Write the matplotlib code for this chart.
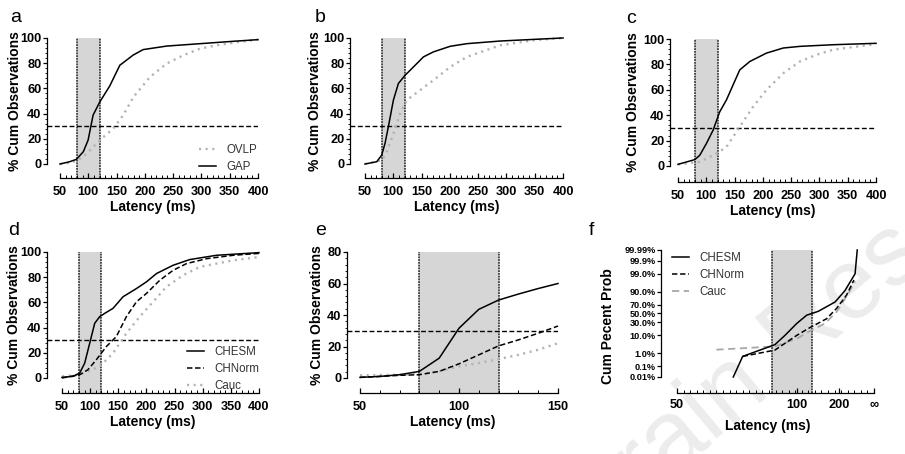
import numpy as np
import matplotlib
matplotlib.use("Agg")
import matplotlib.pyplot as plt
from matplotlib.ticker import FixedLocator, NullFormatter
from statistics import NormalDist

plt.rcParams['font.family'] = ['Liberation Sans', 'DejaVu Sans']

# ---------------- data ----------------
# panel a
a_gap_x = [50, 67, 79, 91.3, 99.7, 108.5, 120.4, 138, 155.8, 179.5, 197, 238.6, 297.7, 356.8, 400]
a_gap_y = [0, 1.8, 3.7, 9.8, 19, 38.8, 49.3, 62, 78.4, 86.5, 90.8, 93.6, 95.5, 97.4, 98.7]
a_ovlp_x = [50, 61, 80, 96.7, 120.4, 144, 161.8, 179.5, 209, 238.6, 268, 297.8, 327, 357, 400]
a_ovlp_y = [0, 0.5, 2.5, 8, 19, 28, 38.8, 53, 69, 79.7, 86.3, 91.6, 94.2, 96.3, 98.7]
# panel b
b_gap_x = [50, 70.7, 79.5, 85.4, 91.3, 100.2, 109, 120.8, 135.6, 153.3, 171, 200.5, 230, 289, 348, 400]
b_gap_y = [0, 1.8, 7, 16.4, 29.6, 50.7, 63.9, 70.4, 77, 85, 89, 93.4, 95.5, 97.6, 98.9, 100]
b_ovlp_x = [50, 80, 88.4, 100.2, 112, 123.8, 147.4, 171, 200.5, 230, 289, 348, 400]
b_ovlp_y = [0, 3, 9.8, 24, 40, 50.7, 58.6, 66.5, 77, 85, 94.2, 98.2, 100]
# panel c
c_gap_x = [50, 79.5, 88.4, 100.2, 112, 123.8, 135.6, 147.4, 159.2, 177, 206.4, 236, 265.5, 324.5, 400]
c_gap_y = [1.3, 5, 8.4, 17.7, 28.2, 42.7, 52, 63.9, 75.7, 82.3, 88.9, 92.9, 94.2, 95.5, 96.6]
c_ovlp_x = [50, 88.4, 117.9, 135.6, 159.2, 182.8, 206.4, 236, 265.5, 295, 324.5, 400]
c_ovlp_y = [1.3, 3.2, 9.8, 15, 30.9, 46.7, 59.9, 73, 82.3, 87.6, 91.6, 96]
# panel d
d_chesm_x = [50, 69.6, 81.4, 90.3, 99.2, 108.1, 117, 125.9, 140.7, 158.5, 182.3, 200, 217.9, 247.5, 277, 324.6, 400]
d_chesm_y = [0.5, 1.3, 3.9, 11.8, 27.6, 43.4, 48.7, 51.3, 55.3, 64.5, 71, 76.3, 82.9, 89.5, 94, 97.4, 99.5]
d_chnorm_x = [50, 81.4, 96.2, 111, 128.9, 146.6, 164.4, 182.3, 200, 223.8, 247.5, 271.3, 306.8, 354.3, 400]
d_chnorm_y = [0, 2.6, 6.6, 14.5, 25, 32.9, 48.7, 60.5, 67.1, 77.6, 85.5, 90.8, 94.7, 97.4, 98.9]
d_cauc_x = [50, 81.4, 117, 140.7, 164.4, 188.2, 211.9, 235.6, 265.3, 295, 354.3, 400]
d_cauc_y = [1.3, 2.6, 9.2, 19.7, 35.5, 48.7, 60.5, 72.4, 81.6, 88.2, 93.4, 96]
# panel e
e_x = [50, 60, 70, 80, 90, 100, 110, 120, 130, 140, 150]
e_chesm_y = [0.4, 1.0, 2.1, 4.2, 12.6, 31.6, 43.6, 49.5, 53.3, 56.8, 60]
e_chnorm_y = [0.4, 1.0, 1.7, 2.1, 4.2, 9, 14.7, 20.4, 24.2, 28.4, 33]
e_cauc_y = [1.7, 1.9, 2.1, 2.5, 4.2, 7.4, 9.5, 12, 14.7, 17.9, 22.1]
# panel f (probability plot)
f_chesm_x = [62.8, 66, 81.6, 88.8, 99.6, 111.6, 131, 180, 235, 351, 394]
f_chesm_y = [0.01, 0.6, 3.4, 10, 28, 46, 55, 75, 91, 99, 99.99]
f_chnorm_x = [66, 81.6, 99.6, 114, 151, 187, 248, 332]
f_chnorm_y = [0.6, 1.6, 10, 19, 38, 62, 86, 97.5]
f_cauc_x = [58, 81.6, 99.6, 114, 146.5, 187, 264, 351]
f_cauc_y = [1.7, 2.7, 7, 14, 28, 54, 88, 97]

window = (80, 120)
criterion = 30

f_yticks = [0.01, 0.1, 1, 10, 30, 50, 70, 90, 99, 99.9, 99.99]
f_yticklabels = ['0.01%', '0.1%', '1.0%', '10.0%', '30.0%', '50.0%', '70.0%', '90.0%', '99.0%', '99.9%', '99.99%']
f_xticks = [50, 100, 200, 1e12]
f_xticklabels = ['50', '100', '200', '∞']

# ---------------- styles ----------------
W, H = 905, 454
GRAY = '#b3b3b3'
SHADE = '#d6d6d6'
solid = dict(color='black', lw=1.1, ls='-')
dashed = dict(color='black', lw=1.1, ls=(0, (3.5, 1.8)))
dotted = dict(color=GRAY, lw=1.7, ls=(0, (0.9, 1.9)))
gdashed = dict(color='#a8a8a8', lw=1.3, ls=(0, (4, 2.5)))
TICKFS = 9.2
LABFS = 10
LEGFS = 8.3
leg_kw = dict(frameon=False, fontsize=LEGFS, handlelength=1.5, handletextpad=0.9,
              labelspacing=0.45, labelcolor='#333333', borderaxespad=0, borderpad=0)

fig = plt.figure(figsize=(W / 100, H / 100), dpi=100)

# faint journal watermark (behind everything)
fig.text(745 / W, 1 - 382 / H, 'Brain Res', fontsize=72, color='#ececec', rotation=40,
         ha='center', va='center', zorder=-5)


def add_axes_px(left, top, right, bottom):
    ax = fig.add_axes([left / W, 1 - bottom / H, (right - left) / W, (bottom - top) / H])
    ax.patch.set_alpha(0)
    return ax


def cdf_panel(geom, xr, yr, xmajor, ymajor, ylab_px):
    spine_x, x0px, x1px, ytop, y0px, xaxis = geom
    ax = add_axes_px(spine_x, ytop, x1px, xaxis)
    per = (x1px - x0px) / (xr[1] - xr[0])
    ax.set_xlim(xr[0] - (x0px - spine_x) / per, xr[1])
    pery = (y0px - ytop) / (yr[1] - yr[0])
    ylim = (yr[0] - (xaxis - y0px) / pery, yr[1])
    ax.set_ylim(*ylim)
    for s in ('top', 'right'):
        ax.spines[s].set_visible(False)
    ax.spines['left'].set_bounds(*yr)
    ax.spines['bottom'].set_bounds(*xr)
    ax.set_xticks(np.arange(xr[0], xr[1] + 1, xmajor))
    ax.set_yticks(np.arange(yr[0], yr[1] + 1, ymajor))
    ax.xaxis.set_minor_locator(FixedLocator(np.arange(xr[0], xr[1] + 1, 10)))
    ax.yaxis.set_minor_locator(FixedLocator(np.arange(yr[0], yr[1] + 0.1, ymajor / 5)))
    ax.tick_params(axis='x', which='major', direction='in', length=3.5, width=0.9, pad=5.5)
    ax.tick_params(axis='x', which='minor', direction='in', length=2, width=0.7)
    ax.tick_params(axis='y', which='major', direction='out', length=3, width=0.9, pad=1)
    ax.tick_params(axis='y', which='minor', direction='out', length=1.5, width=0.6)
    for lab in ax.get_xticklabels() + ax.get_yticklabels():
        lab.set_fontweight('bold')
        lab.set_fontsize(TICKFS)
    ax.set_xlabel('Latency (ms)', fontsize=LABFS, fontweight='bold', labelpad=2)
    ax.set_ylabel('% Cum Observations', fontsize=LABFS, fontweight='bold')
    mid = (sum(yr) / 2 - ylim[0]) / (ylim[1] - ylim[0])
    ax.yaxis.set_label_coords((ylab_px + 6 - spine_x) / (x1px - spine_x), mid)
    ax.axvspan(window[0], window[1], color=SHADE, lw=0, zorder=0)
    for v in window:
        ax.axvline(v, color='#222222', lw=1.1, ls=(0, (1.2, 0.6)), zorder=1)
    ax.axhline(criterion, color='black', lw=1.0, ls=(0, (3.5, 1.8)), zorder=2)
    for sp in ax.spines.values():
        sp.set_linewidth(0.9)
    return ax


def letter(x, y, s):
    fig.text(x / W, 1 - y / H, s, fontsize=14, ha='left', va='baseline')


def place_legend(ax, handles, labels, x_px, y_px_top):
    return ax.legend(handles, labels, loc='upper left',
                     bbox_to_anchor=(x_px / W, 1 - y_px_top / H),
                     bbox_transform=fig.transFigure, **leg_kw)


# panel a
ax = cdf_panel((47, 60, 258, 38, 164, 178), (50, 400), (0, 100), 50, 20, 16)
l1, = ax.plot(a_ovlp_x, a_ovlp_y, clip_on=False, zorder=3, **dotted)
l2, = ax.plot(a_gap_x, a_gap_y, clip_on=False, zorder=4, **solid)
place_legend(ax, [l1, l2], ['OVLP', 'GAP'], 199, 144)
letter(10, 22, 'a')

# panel b
ax = cdf_panel((350, 365, 563, 38, 164, 178), (50, 400), (0, 100), 50, 20, 316)
ax.plot(b_ovlp_x, b_ovlp_y, clip_on=False, zorder=3, **dotted)
ax.plot(b_gap_x, b_gap_y, clip_on=False, zorder=4, **solid)
letter(315, 22, 'b')

# panel c
ax = cdf_panel((670, 678, 876, 39, 166, 182), (50, 400), (0, 100), 50, 20, 634)
ax.plot(c_ovlp_x, c_ovlp_y, clip_on=False, zorder=3, **dotted)
ax.plot(c_gap_x, c_gap_y, clip_on=False, zorder=4, **solid)
letter(626, 23, 'c')

# panel d
ax = cdf_panel((47, 62, 259, 252, 378, 393), (50, 400), (0, 100), 50, 20, 15)
h3, = ax.plot(d_cauc_x, d_cauc_y, clip_on=False, zorder=3, **dotted)
h2, = ax.plot(d_chnorm_x, d_chnorm_y, clip_on=False, zorder=4, **dashed)
h1, = ax.plot(d_chesm_x, d_chesm_y, clip_on=False, zorder=5, **solid)
place_legend(ax, [h1, h2, h3], ['CHESM', 'CHNorm', 'Cauc'], 187, 346)
letter(8, 235, 'd')

# panel e
ax = cdf_panel((347, 360, 558, 252, 378, 393), (50, 150), (0, 80), 50, 20, 318)
ax.plot(e_x, e_cauc_y, clip_on=False, zorder=3, **dotted)
ax.plot(e_x, e_chnorm_y, clip_on=False, zorder=4, **dashed)
ax.plot(e_x, e_chesm_y, clip_on=False, zorder=5, **solid)
letter(315, 235, 'e')

# panel f : probit y, reciprocal-like x
_nd = NormalDist()
_ppf = np.vectorize(_nd.inv_cdf, otypes=[float])
_cdf = np.vectorize(_nd.cdf, otypes=[float])


def probit_fwd(p):
    q = np.clip(np.asarray(p, float) / 100.0, 1e-12, 1 - 1e-12)
    return _ppf(q)


def probit_inv(z):
    return _cdf(np.asarray(z, float)) * 100.0


XC = 18.0


def rec_fwd(x):
    x = np.asarray(x, float)
    with np.errstate(divide='ignore', invalid='ignore'):
        return -1.0 / np.clip(x - XC, 1e-9, None)


def rec_inv(t):
    t = np.asarray(t, float)
    with np.errstate(divide='ignore', invalid='ignore'):
        return XC - 1.0 / np.clip(t, None, -1e-15)


ax = add_axes_px(661, 250, 874, 393)
ax.set_xscale('function', functions=(rec_fwd, rec_inv))
ax.set_yscale('function', functions=(probit_fwd, probit_inv))
t50 = float(rec_fwd(50.0))
tper = 197 / (0 - t50)
ax.set_xlim(float(rec_inv(t50 - 16 / tper)), 1e12)
zlo, zhi = float(probit_fwd(0.01)), float(probit_fwd(99.99))
zper = (377 - 250) / (zhi - zlo)
ax.set_ylim(float(probit_inv(zlo - 16 / zper)), 99.99)
for s in ('top', 'right'):
    ax.spines[s].set_visible(False)
ax.spines['left'].set_bounds(0.01, 99.99)
ax.spines['bottom'].set_bounds(50, 1e12)
for sp in ax.spines.values():
    sp.set_linewidth(0.9)
ax.set_xticks(f_xticks)
ax.set_xticklabels(f_xticklabels)
minor_t = np.linspace(t50, 0, 31)[1:-1]
ax.xaxis.set_minor_locator(FixedLocator(rec_inv(minor_t)))
ax.xaxis.set_minor_formatter(NullFormatter())
ax.set_yticks(f_yticks)
ax.set_yticklabels(f_yticklabels)
ax.yaxis.set_minor_locator(FixedLocator([]))
ax.tick_params(axis='x', which='major', direction='in', length=3.5, width=0.9, pad=4)
ax.tick_params(axis='x', which='minor', direction='in', length=2, width=0.7)
ax.tick_params(axis='y', which='major', direction='out', length=3, width=0.9, pad=1)
for lab in ax.get_xticklabels():
    lab.set_fontweight('bold')
    lab.set_fontsize(TICKFS)
for lab in ax.get_yticklabels():
    lab.set_fontweight('bold')
    lab.set_fontsize(6.6)
ax.set_xlabel('Latency (ms)', fontsize=LABFS, fontweight='bold', labelpad=6)
ax.set_ylabel('Cum Pecent Prob', fontsize=LABFS, fontweight='bold')
ax.yaxis.set_label_coords((615 - 661) / (874 - 661), 0.47)
ax.axvspan(window[0], window[1], color=SHADE, lw=0, zorder=0)
for v in window:
    ax.axvline(v, color='#222222', lw=1.1, ls=(0, (1.2, 0.6)), zorder=1)
g3, = ax.plot(f_cauc_x, f_cauc_y, clip_on=False, zorder=3, **gdashed)
g2, = ax.plot(f_chnorm_x, f_chnorm_y, clip_on=False, zorder=4, **dashed)
g1, = ax.plot(f_chesm_x, f_chesm_y, clip_on=False, zorder=5, **solid)
place_legend(ax, [g1, g2, g3], ['CHESM', 'CHNorm', 'Cauc'], 672, 252)
letter(589, 235, 'f')

fig.savefig('out.png', dpi=100)
